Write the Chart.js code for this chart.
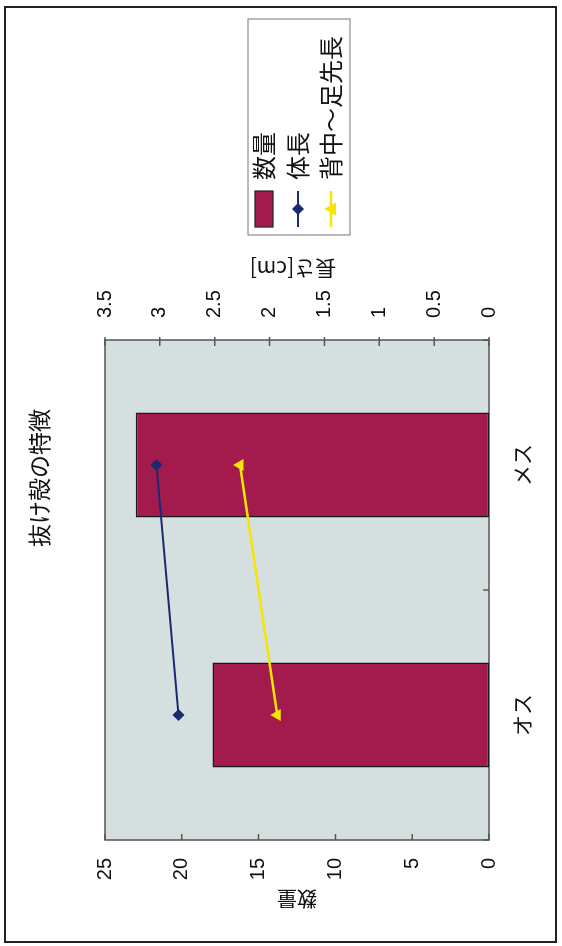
<!DOCTYPE html>
<html><head><meta charset="utf-8">
<script src="https://cdn.jsdelivr.net/npm/chart.js@4.4.0/dist/chart.umd.min.js"></script>
<style>
html,body{margin:0;padding:0;background:#fff;width:562px;height:946px;overflow:hidden;}
#wrap{position:absolute;left:0;top:0;width:946px;height:562px;transform-origin:0 0;transform:translateY(946px) rotate(-90deg);}
#c{display:block;width:946px;height:562px;}
#frame{position:absolute;left:4px;top:6px;width:553px;height:937px;border:2px solid #222;box-sizing:border-box;pointer-events:none;}
</style></head><body>
<div id="wrap"><canvas id="c" width="946" height="562"></canvas></div>
<div id="frame"></div>
<script>
// ---- data ----
const chartTitle = '抜け殻の特徴';
const categories = ['オス', 'メス'];
const seriesNames = ['数量', '体長', '背中〜足先長'];
const countValues = [18, 23];          // 数量 (left axis)
const bodyLength = [2.83, 3.03];       // 体長 [cm] (right axis)
const backToFoot = [1.93, 2.27];       // 背中〜足先長 [cm] (right axis)
const leftAxisTitle = '数量';
const rightAxisTitle = '長さ[cm]';
const leftAxisRange = [0, 25, 5];
const rightAxisRange = [0, 3.5, 0.5];

// ---- style ----
const LFONT = "'Liberation Sans', Arial, 'Noto Sans CJK JP', sans-serif";
const JFONT = "'Noto Sans CJK JP', sans-serif";
const BAR = '#a31a4c', NAVY = '#1b2a70', YEL = '#f5e600', PLOTBG = '#d6dfe0';

const deco = {
  id: 'deco',
  beforeDatasetsDraw(chart) {
    const {ctx, chartArea: a} = chart;
    const x = chart.scales.x, y = chart.scales.y, y2 = chart.scales.y2;
    ctx.save();
    ctx.fillStyle = PLOTBG;
    ctx.fillRect(a.left, a.top, a.right - a.left, a.bottom - a.top);
    ctx.strokeStyle = '#555'; ctx.lineWidth = 1.5;
    ctx.strokeRect(a.left, a.top, a.right - a.left, a.bottom - a.top);
    ctx.beginPath();
    y.ticks.forEach(t => { const p = y.getPixelForValue(t.value); ctx.moveTo(a.left, p); ctx.lineTo(a.left + 6, p); });
    y2.ticks.forEach(t => { const p = y2.getPixelForValue(t.value); ctx.moveTo(a.right - 6, p); ctx.lineTo(a.right + 3, p); });
    for (let i = 0; i <= categories.length; i++) {
      const p = x.getPixelForValue(i - 0.5);
      ctx.moveTo(p, a.bottom); ctx.lineTo(p, a.bottom - 6);
    }
    ctx.stroke();
    ctx.restore();
  },
  afterDraw(chart) {
    const {ctx, chartArea: a} = chart;
    ctx.save();
    ctx.fillStyle = '#111';
    ctx.textAlign = 'center'; ctx.textBaseline = 'middle';
    // chart title
    ctx.font = `23px ${JFONT}`;
    ctx.fillText(chartTitle, 468, 39);
    // axis titles (rotated, reading bottom-to-top)
    const mid = (a.top + a.bottom) / 2;
    ctx.font = `20px ${JFONT}`;
    ctx.save(); ctx.translate(47, mid); ctx.rotate(-Math.PI / 2); ctx.fillText(leftAxisTitle, 0, 0); ctx.restore();
    ctx.font = `21px ${JFONT}`;
    ctx.save(); ctx.translate(677, mid - 4); ctx.rotate(-Math.PI / 2); ctx.fillText(rightAxisTitle, 0, 0); ctx.restore();
    // legend
    const lx = 711, ly = 248, lw = 216, lh = 102;
    ctx.fillStyle = '#fff'; ctx.fillRect(lx, ly, lw, lh);
    ctx.strokeStyle = '#777'; ctx.lineWidth = 1; ctx.strokeRect(lx, ly, lw, lh);
    const rows = [264, 298, 331];
    const mx0 = 719, mx1 = 755, mc = (mx0 + mx1) / 2;
    // bar swatch
    ctx.fillStyle = BAR; ctx.fillRect(mx0, rows[0] - 9, mx1 - mx0, 18);
    ctx.strokeStyle = '#222'; ctx.lineWidth = 1.2; ctx.strokeRect(mx0, rows[0] - 9, mx1 - mx0, 18);
    // navy line + diamond
    ctx.strokeStyle = NAVY; ctx.lineWidth = 2;
    ctx.beginPath(); ctx.moveTo(mx0, rows[1]); ctx.lineTo(mx1, rows[1]); ctx.stroke();
    ctx.fillStyle = NAVY; ctx.beginPath();
    ctx.moveTo(mc, rows[1] - 6); ctx.lineTo(mc + 6, rows[1]); ctx.lineTo(mc, rows[1] + 6); ctx.lineTo(mc - 6, rows[1]); ctx.closePath(); ctx.fill();
    // yellow line + triangle
    ctx.strokeStyle = YEL; ctx.lineWidth = 2.5;
    ctx.beginPath(); ctx.moveTo(mx0, rows[2]); ctx.lineTo(mx1, rows[2]); ctx.stroke();
    ctx.fillStyle = YEL; ctx.beginPath();
    ctx.moveTo(mc, rows[2] - 7); ctx.lineTo(mc + 6.5, rows[2] + 5); ctx.lineTo(mc - 6.5, rows[2] + 5); ctx.closePath(); ctx.fill();
    // legend texts
    ctx.fillStyle = '#111'; ctx.textAlign = 'left'; ctx.font = `24px ${JFONT}`;
    seriesNames.forEach((n, i) => ctx.fillText(n, 766, rows[i]));
    ctx.restore();
  }
};

const fmt = v => String(Math.round(v * 10) / 10);

new Chart(document.getElementById('c').getContext('2d'), {
  data: {
    labels: categories,
    datasets: [
      { type: 'bar', label: seriesNames[0], data: countValues, yAxisID: 'y',
        backgroundColor: BAR, borderColor: '#1a1a1a', borderWidth: 1.5, borderSkipped: false,
        barPercentage: 0.42, categoryPercentage: 1, order: 3 },
      { type: 'line', label: seriesNames[1], data: bodyLength, yAxisID: 'y2',
        borderColor: NAVY, backgroundColor: NAVY, borderWidth: 2, tension: 0,
        pointStyle: 'rectRot', pointRadius: 6, pointBorderWidth: 0, order: 2 },
      { type: 'line', label: seriesNames[2], data: backToFoot, yAxisID: 'y2',
        borderColor: YEL, backgroundColor: YEL, borderWidth: 2.5, tension: 0,
        pointStyle: 'triangle', pointRadius: 7, pointBorderWidth: 0, order: 1 }
    ]
  },
  options: {
    responsive: false, animation: false, devicePixelRatio: 1,
    layout: { padding: { left: 0, right: 240, top: 105, bottom: 0 } },
    plugins: { legend: { display: false }, title: { display: false }, tooltip: { enabled: false } },
    scales: {
      x: { type: 'category', offset: true,
        grid: { display: false, drawTicks: false }, border: { display: false },
        ticks: { padding: 20, color: '#111', font: { family: JFONT, size: 21 } },
        afterFit(s) { s.height = 73; } },
      y: { position: 'left', min: leftAxisRange[0], max: leftAxisRange[1],
        grid: { display: false, drawTicks: false }, border: { display: false },
        ticks: { stepSize: leftAxisRange[2], padding: 18, color: '#111', font: { family: LFONT, size: 20 }, callback: fmt },
        afterFit(s) { s.width = 106; } },
      y2: { position: 'right', min: rightAxisRange[0], max: rightAxisRange[1],
        grid: { display: false, drawTicks: false }, border: { display: false },
        ticks: { stepSize: rightAxisRange[2], padding: 22, color: '#111', font: { family: LFONT, size: 20 }, callback: fmt },
        afterFit(s) { s.width = 100; } }
    }
  },
  plugins: [deco]
});
</script>
</body></html>
